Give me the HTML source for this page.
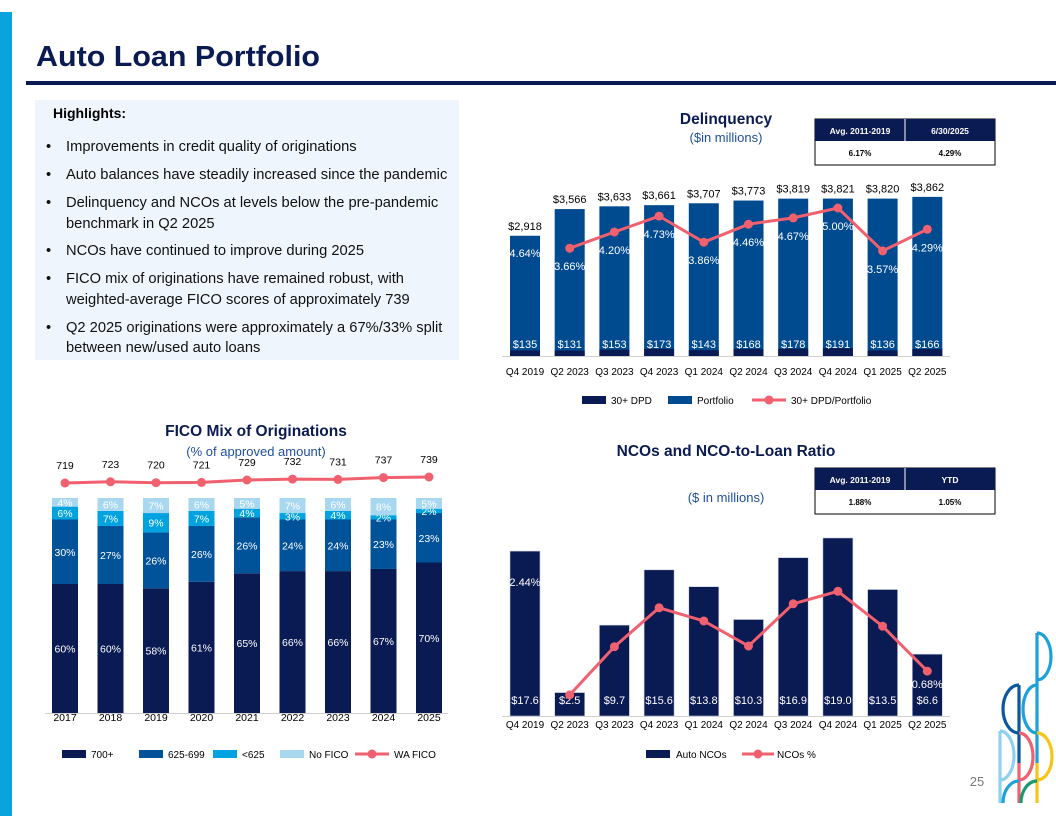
<!DOCTYPE html>
<html><head><meta charset="utf-8"><style>
body{margin:0;background:#fff;}
svg{display:block;font-family:"Liberation Sans",sans-serif;}
</style></head><body>
<svg id="s" width="1056" height="816" viewBox="0 0 1056 816" xmlns="http://www.w3.org/2000/svg">
<rect x="0" y="12" width="12" height="804" fill="#0aa3dd"/>
<text x="36" y="66" font-size="29" font-weight="bold" fill="#0a1a52" textLength="284" lengthAdjust="spacingAndGlyphs">Auto Loan Portfolio</text>
<rect x="26" y="81" width="1030" height="4" fill="#0a1a52"/>
<g>
<rect x="35" y="100" width="424" height="260" fill="#eef5fc"/>
<text x="53" y="118" font-size="14" font-weight="bold" fill="#000">Highlights:</text>
<g font-size="14.7" fill="#111">
<text x="46" y="151">•</text><text x="66" y="151">Improvements in credit quality of originations</text>
<text x="46" y="179">•</text><text x="66" y="179">Auto balances have steadily increased since the pandemic</text>
<text x="46" y="207">•</text><text x="66" y="207">Delinquency and NCOs at levels below the pre-pandemic</text>
<text x="66" y="228">benchmark in Q2 2025</text>
<text x="46" y="255">•</text><text x="66" y="255">NCOs have continued to improve during 2025</text>
<text x="46" y="283">•</text><text x="66" y="283">FICO mix of originations have remained robust, with</text>
<text x="66" y="304">weighted-average FICO scores of approximately 739</text>
<text x="46" y="332">•</text><text x="66" y="332">Q2 2025 originations were approximately a 67%/33% split</text>
<text x="66" y="352">between new/used auto loans</text>
</g></g>
<text x="726" y="124" font-size="15.5" font-weight="bold" fill="#0a1a52" text-anchor="middle">Delinquency</text>
<text x="726" y="142" font-size="13" fill="#1f4e9c" text-anchor="middle">($in millions)</text>
<g>
<rect x="815" y="119" width="180" height="46" fill="#fff" stroke="#000" stroke-width="1"/>
<rect x="815" y="119" width="180" height="22" fill="#0a1a52"/>
<line x1="905" y1="119" x2="905" y2="141" stroke="#fff"/>
<text x="860" y="134" font-size="8.5" font-weight="bold" fill="#fff" text-anchor="middle">Avg. 2011-2019</text>
<text x="950" y="134" font-size="8.5" font-weight="bold" fill="#fff" text-anchor="middle">6/30/2025</text>
<text x="860" y="156" font-size="8" font-weight="bold" fill="#000" text-anchor="middle">6.17%</text>
<text x="950" y="156" font-size="8" font-weight="bold" fill="#000" text-anchor="middle">4.29%</text>
</g>
<text x="256" y="436" font-size="15.5" font-weight="bold" fill="#0a1a52" text-anchor="middle">FICO Mix of Originations</text>
<text x="256" y="456" font-size="13" fill="#1f4e9c" text-anchor="middle">(% of approved amount)</text>
<text x="726" y="456" font-size="15.5" font-weight="bold" fill="#0a1a52" text-anchor="middle">NCOs and NCO-to-Loan Ratio</text>
<text x="726" y="502" font-size="13" fill="#1f4e9c" text-anchor="middle">($ in millions)</text>
<g>
<rect x="815" y="468" width="180" height="46" fill="#fff" stroke="#000" stroke-width="1"/>
<rect x="815" y="468" width="180" height="22" fill="#0a1a52"/>
<line x1="905" y1="468" x2="905" y2="490" stroke="#fff"/>
<text x="860" y="483" font-size="8.5" font-weight="bold" fill="#fff" text-anchor="middle">Avg. 2011-2019</text>
<text x="950" y="483" font-size="8.5" font-weight="bold" fill="#fff" text-anchor="middle">YTD</text>
<text x="860" y="505" font-size="8" font-weight="bold" fill="#000" text-anchor="middle">1.88%</text>
<text x="950" y="505" font-size="8" font-weight="bold" fill="#000" text-anchor="middle">1.05%</text>
</g>
<g id="charts"></g>
<g fill="none" stroke-width="3.2">
<path d="M1037 633 A14 23.5 0 0 1 1037 680 M1037 633 L1037 763" stroke="#1da1d8"/>
<path d="M1037 685 A14 24 0 0 0 1037 733" stroke="#1da1d8"/>
<path d="M1019 685 A16 24 0 0 0 1019 733 M1019 685 L1019 763" stroke="#0b57a0"/>
<path d="M1019 733 A14 23.5 0 0 1 1019 780 M1019 763 L1019 803" stroke="#f0606e"/>
<path d="M1037 733 A15 23.5 0 0 1 1037 780 M1037 763 L1037 803" stroke="#f5c518"/>
<path d="M1000 731 A14 24.5 0 0 1 1000 780 M1000 731 L1000 803" stroke="#8fd0f0"/>
<path d="M1003 803 A16 22 0 0 1 1019 781" stroke="#1da1d8"/>
<path d="M1021 803 A16 22 0 0 1 1037 781" stroke="#1a9a6e"/>
</g>
<text x="977" y="786" font-size="13" fill="#777" text-anchor="middle">25</text>
</svg>
<script>
// ---- Delinquency data ----
const delCats = ["Q4 2019","Q2 2023","Q3 2023","Q4 2023","Q1 2024","Q2 2024","Q3 2024","Q4 2024","Q1 2025","Q2 2025"];
const delPortfolio = [2918,3566,3633,3661,3707,3773,3819,3821,3820,3862];
const delDPD = [135,131,153,173,143,168,178,191,136,166];
const delPct = [4.64,3.66,4.20,4.73,3.86,4.46,4.67,5.00,3.57,4.29];
// ---- FICO data ----
const ficoYears = ["2017","2018","2019","2020","2021","2022","2023","2024","2025"];
const fico700 = [60,60,58,61,65,66,66,67,70];
const fico625 = [30,27,26,26,26,24,24,23,23];
const ficoLow = [6,7,9,7,4,3,4,2,2];
const ficoNone = [4,6,7,6,5,7,6,8,5];
const ficoWA = [719,723,720,721,729,732,731,737,739];
// ---- NCO data ----
const ncoCats = ["Q4 2019","Q2 2023","Q3 2023","Q4 2023","Q1 2024","Q2 2024","Q3 2024","Q4 2024","Q1 2025","Q2 2025"];
const ncoAmt = [17.6,2.5,9.7,15.6,13.8,10.3,16.9,19.0,13.5,6.6];
const ncoPct = [2.44,0.32,1.05,1.64,1.44,1.06,1.70,1.89,1.36,0.68];

const NS="http://www.w3.org/2000/svg";
const root=document.getElementById('charts');
function mk(tag,attrs,parent,txt){const e=document.createElementNS(NS,tag);for(const k in attrs)e.setAttribute(k,attrs[k]);if(txt!==undefined)e.textContent=txt;(parent||root).appendChild(e);return e;}
const NAVY="#0a1a52",BLUE="#004a8f",PINK="#f0606e";

// Delinquency
(function(){
  const g=mk('g',{});
  
  
  const base=356,x0=525,step=44.7,bw=30;
  const yv=v=>base-v*0.0412, yp=p=>358-p*30;
  const xc=i=>x0+i*step;
  mk('line',{x1:502,x2:950,y1:base+0.5,y2:base+0.5,stroke:"#d0d0d0"},g);
  delCats.forEach((c,i)=>{
    const r=mk('rect',{x:xc(i)-bw/2,y:yv(delPortfolio[i]),width:bw,height:base-yv(delPortfolio[i]),fill:BLUE},g);
    
    
    const d=mk('rect',{x:xc(i)-bw/2,y:yv(delDPD[i]),width:bw,height:base-yv(delDPD[i]),fill:NAVY},g);
    
    
    mk('text',{x:xc(i),y:yv(delPortfolio[i])-6,"font-size":11,"text-anchor":"middle",fill:"#000"},g,"$"+delPortfolio[i].toLocaleString());
    mk('text',{x:xc(i),y:348,"font-size":11,"text-anchor":"middle",fill:"#fff"},g,"$"+delDPD[i]);
    mk('text',{x:xc(i),y:yp(delPct[i])+(i===0?38:22),"font-size":11,"text-anchor":"middle",fill:"#fff"},g,delPct[i].toFixed(2)+"%");
    mk('text',{x:xc(i),y:375,"font-size":10,"text-anchor":"middle",fill:"#000"},g,c);
  });
  const pts=delPct.map((p,i)=>[xc(i),yp(p)]).slice(1);
  const l=mk('polyline',{points:pts.map(p=>p.join(',')).join(' '),fill:"none",stroke:PINK,"stroke-width":3},g);
  
  
  pts.forEach(p=>{const c=mk('circle',{cx:p[0],cy:p[1],r:4.5,fill:PINK},g);
    
    });
  const lg=mk('g',{"font-size":10,fill:"#000"},g);
  
  
  mk('rect',{x:582,y:396,width:24,height:8,fill:NAVY},lg);mk('text',{x:611,y:404},lg,"30+ DPD");
  mk('rect',{x:668,y:396,width:24,height:8,fill:BLUE},lg);mk('text',{x:697,y:404},lg,"Portfolio");
  mk('line',{x1:752,x2:786,y1:400,y2:400,stroke:PINK,"stroke-width":3},lg);mk('circle',{cx:769,cy:400,r:4.5,fill:PINK},lg);
  mk('text',{x:791,y:404},lg,"30+ DPD/Portfolio");
})();

// FICO
(function(){
  const g=mk('g',{});
  
  
  const base=713,h=215,x0=65,step=45.5,bw=26;
  const xc=i=>x0+i*step, yw=v=>483-(v-719)*0.3;
  mk('line',{x1:45,x2:448,y1:base+0.5,y2:base+0.5,stroke:"#d0d0d0"},g);
  const series=[[fico700,NAVY,"fico-700-plus"],[fico625,"#005299","fico-625-699"],[ficoLow,"#00a3e0","fico-below-625"],[ficoNone,"#a8d8f0","fico-none"]];
  ficoYears.forEach((yr,i)=>{
    let acc=0;
    series.forEach(s=>{
      const v=s[0][i];
      const y1=base-(acc+v)/100*h, hh=v/100*h;
      const r=mk('rect',{x:xc(i)-bw/2,y:y1,width:bw,height:hh,fill:s[1]},g);
      
      
      mk('text',{x:xc(i),y:y1+hh/2+4,"font-size":10.5,"text-anchor":"middle",fill:"#fff"},g,v+"%");
      acc+=v;
    });
    mk('text',{x:xc(i),y:721,"font-size":10.5,"text-anchor":"middle",fill:"#000"},g,yr);
    mk('text',{x:xc(i),y:yw(ficoWA[i])-14,"font-size":10.5,"text-anchor":"middle",fill:"#000"},g,ficoWA[i]);
  });
  const pts=ficoWA.map((v,i)=>[xc(i),yw(v)]);
  const l=mk('polyline',{points:pts.map(p=>p.join(',')).join(' '),fill:"none",stroke:PINK,"stroke-width":3},g);
  
  
  pts.forEach(p=>{const c=mk('circle',{cx:p[0],cy:p[1],r:4.5,fill:PINK},g);
    
    });
  const lg=mk('g',{"font-size":10,fill:"#000"},g);
  
  
  mk('rect',{x:62,y:750,width:24,height:8,fill:NAVY},lg);mk('text',{x:91,y:758},lg,"700+");
  mk('rect',{x:139,y:750,width:24,height:8,fill:"#005299"},lg);mk('text',{x:168,y:758},lg,"625-699");
  mk('rect',{x:213,y:750,width:24,height:8,fill:"#00a3e0"},lg);mk('text',{x:242,y:758},lg,"<625");
  mk('rect',{x:280,y:750,width:24,height:8,fill:"#a8d8f0"},lg);mk('text',{x:309,y:758},lg,"No FICO");
  mk('line',{x1:355,x2:389,y1:754,y2:754,stroke:PINK,"stroke-width":3},lg);mk('circle',{cx:372,cy:754,r:4.5,fill:PINK},lg);
  mk('text',{x:394,y:758},lg,"WA FICO");
})();

// NCO
(function(){
  const g=mk('g',{});
  
  
  const base=716,x0=525,step=44.7,bw=30;
  const xc=i=>x0+i*step, ya=v=>base-v*9.37, yp=p=>base-p*66;
  mk('line',{x1:502,x2:950,y1:base+0.5,y2:base+0.5,stroke:"#d0d0d0"},g);
  ncoCats.forEach((c,i)=>{
    const r=mk('rect',{x:xc(i)-bw/2,y:ya(ncoAmt[i]),width:bw,height:base-ya(ncoAmt[i]),fill:NAVY,stroke:"#c8cde0","stroke-width":0.6},g);
    
    
    mk('text',{x:xc(i),y:704,"font-size":11,"text-anchor":"middle",fill:"#fff"},g,"$"+ncoAmt[i].toFixed(1));
    mk('text',{x:xc(i),y:728,"font-size":10,"text-anchor":"middle",fill:"#000"},g,c);
  });
  [0,ncoPct.length-1].forEach(i=>{
    mk('text',{x:xc(i),y:yp(ncoPct[i])+(i===0?31:17),"font-size":11,"text-anchor":"middle",fill:"#fff"},g,ncoPct[i].toFixed(2)+"%");
  });
  const pts=ncoPct.map((p,i)=>[xc(i),yp(p)]).slice(1);
  const l=mk('polyline',{points:pts.map(p=>p.join(',')).join(' '),fill:"none",stroke:PINK,"stroke-width":3},g);
  
  
  pts.forEach(p=>{const c=mk('circle',{cx:p[0],cy:p[1],r:4.5,fill:PINK},g);
    
    });
  const lg=mk('g',{"font-size":10,fill:"#000"},g);
  
  
  mk('rect',{x:646,y:750,width:24,height:8,fill:NAVY},lg);mk('text',{x:676,y:758},lg,"Auto NCOs");
  mk('line',{x1:742,x2:774,y1:754,y2:754,stroke:PINK,"stroke-width":3},lg);mk('circle',{cx:758,cy:754,r:4.5,fill:PINK},lg);
  mk('text',{x:777,y:758},lg,"NCOs %");
})();
</script>
</body></html>
